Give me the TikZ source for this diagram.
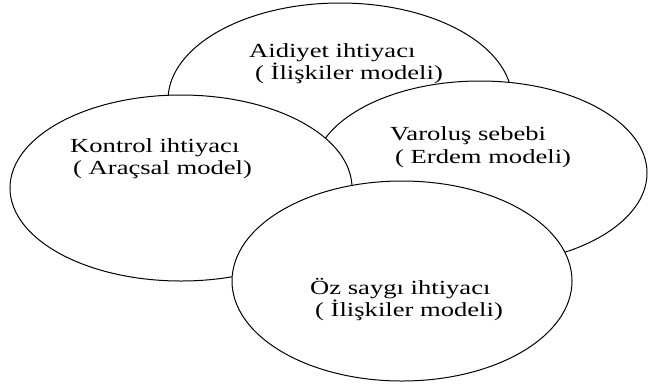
\documentclass[tikz,border=0pt]{standalone}
\usepackage{fontspec}
\setmainfont{Liberation Serif}
\usetikzlibrary{shapes.geometric}
% labels are set wide: horizontally stretched serif text
\newcommand{\widetext}[1]{\scalebox{1.33}[1]{#1}}
\begin{document}
\begin{tikzpicture}[x=1bp,y=-1bp,
  need/.style={ellipse, draw=black, line width=1bp, fill=white, inner sep=0pt},
  caption/.style={anchor=base west, inner sep=0pt,
    font=\rmfamily\fontsize{20bp}{23bp}\selectfont}]
\useasboundingbox (0,0) rectangle (648,387);

% ellipses, back to front
\node[need, minimum width=344bp, minimum height=194bp] (aidiyet) at (340,100) {};
\node[need, minimum width=334bp, minimum height=184bp] (varolus) at (480,173) {};
\node[need, minimum width=342bp, minimum height=186bp] (kontrol) at (181,188) {};
\node[need, minimum width=340bp, minimum height=200bp] (ozsaygi) at (402,281) {};

% labels
\node[caption] (aidiyet1) at (249,57) {\widetext{Aidiyet ihtiyacı}};
\node[caption] (aidiyet2) at (255,79) {\widetext{( İlişkiler modeli)}};
\node[caption] (kontrol1) at (70,152) {\widetext{Kontrol ihtiyacı}};
\node[caption] (kontrol2) at (73,174) {\widetext{( Araçsal model)}};
\node[caption] (varolus1) at (390,140) {\widetext{Varoluş sebebi}};
\node[caption] (varolus2) at (395,163) {\widetext{( Erdem modeli)}};
\node[caption] (ozsaygi1) at (310,294) {\widetext{Öz saygı ihtiyacı}};
\node[caption] (ozsaygi2) at (315,316) {\widetext{( İlişkiler modeli)}};
\end{tikzpicture}
\end{document}
